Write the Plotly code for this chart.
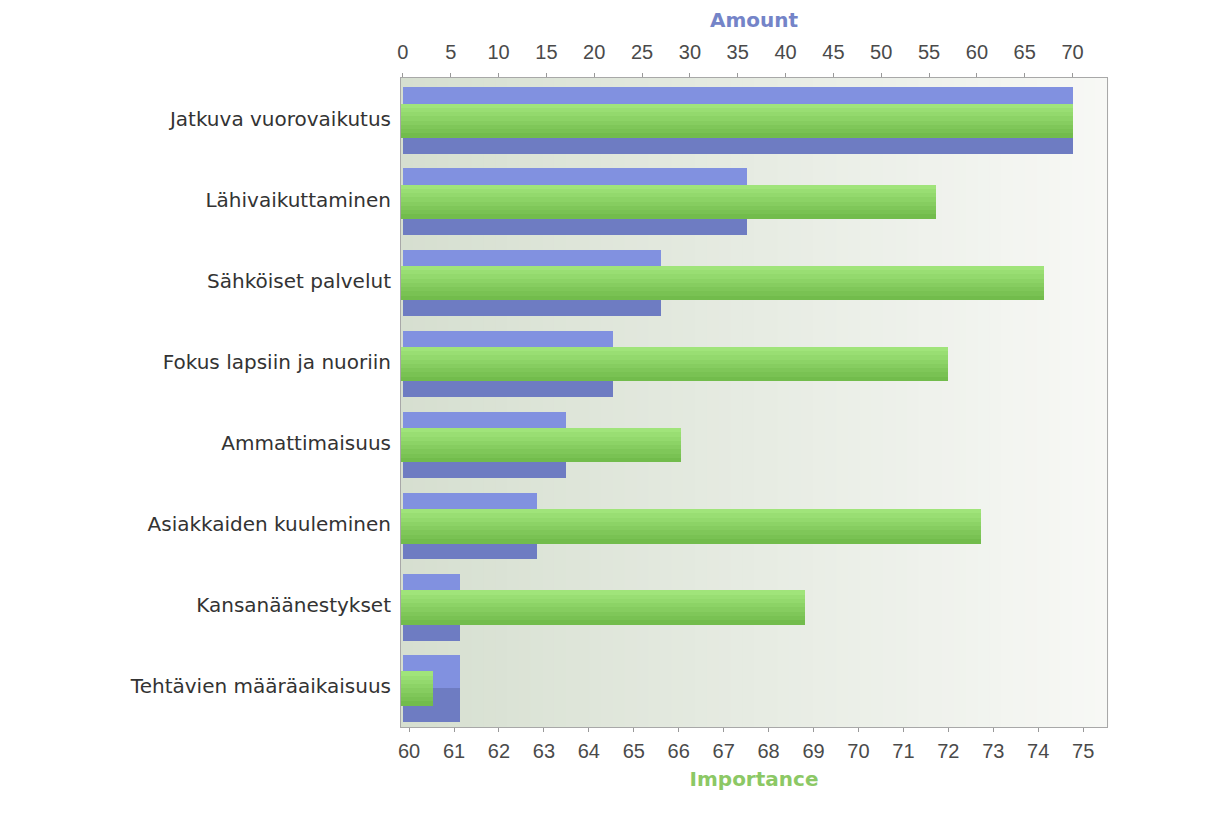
import plotly.graph_objects as go

categories = [
    "Jatkuva vuorovaikutus",
    "Lähivaikuttaminen",
    "Sähköiset palvelut",
    "Fokus lapsiin ja nuoriin",
    "Ammattimaisuus",
    "Asiakkaiden kuuleminen",
    "Kansanäänestykset",
    "Tehtävien määräaikaisuus",
]
amount = [70, 36, 27, 22, 17, 14, 6, 6]
importance = [74.78, 71.73, 74.13, 72.0, 66.04, 72.73, 68.8, 60.53]

amount_ticks = list(range(0, 75, 5))
importance_ticks = list(range(60, 76))

FONT = "Liberation Sans"
TFONT = "DejaVu Sans"
TICKCOL = "#4a4a4a"

fig = go.Figure()

# background gradient in the plot area
n = 60
def lerp(c1, c2, t):
    return "#%02x%02x%02x" % tuple(round(a + (b - a) * t) for a, b in zip(c1, c2))
c_left = (0xd6, 0xdf, 0xd0)
c_right = (0xf7, 0xf8, 0xf5)
shapes = []
for i in range(n):
    shapes.append(dict(type="rect", xref="paper", yref="paper",
                       x0=i / n, x1=(i + 1) / n + 0.002, y0=0, y1=1,
                       fillcolor=lerp(c_left, c_right, i / (n - 1)),
                       line=dict(width=0), layer="below"))

SH = 0.025
BW = 0.82
# blue bars (Amount) : lighter top half, darker bottom half
fig.add_trace(go.Bar(y=categories, x=amount, orientation="h", xaxis="x", yaxis="y",
                     width=BW / 2, offset=-BW / 2 + SH, marker=dict(color="#8191e0", line=dict(width=0)),
                     name="Amount", showlegend=False))
fig.add_trace(go.Bar(y=categories, x=amount, orientation="h", xaxis="x", yaxis="y",
                     width=BW / 2, offset=SH, marker=dict(color="#6e7cc2", line=dict(width=0)),
                     name="Amount", showlegend=False))

# green bars (Importance) with vertical gradient
GW = 0.42
k = 8
g_top = (0xa0, 0xe4, 0x7a)
g_bot = (0x72, 0xbc, 0x4c)
for j in range(k):
    fig.add_trace(go.Bar(y=categories, x=importance, orientation="h", xaxis="x2", yaxis="y",
                         width=GW / k + 0.003, offset=-GW / 2 + SH + j * GW / k,
                         marker=dict(color=lerp(g_top, g_bot, j / (k - 1)), line=dict(width=0)),
                         name="Importance", showlegend=False))

fig.update_layout(
    width=1223, height=839,
    margin=dict(l=393, r=124, t=70, b=120),
    paper_bgcolor="white",
    plot_bgcolor="#e8ede4",
    barmode="overlay",
    bargap=0,
    shapes=shapes,
    font=dict(family=FONT, size=20, color=TICKCOL),
    xaxis=dict(side="top", range=[-0.2, 73.6], tickmode="array", tickvals=amount_ticks,
               ticks="outside", ticklen=4, tickcolor="#999999", showgrid=False, zeroline=False,
               showline=True, linecolor="#a8a8a8", linewidth=1, ticklabelstandoff=6,
               tickfont=dict(family=FONT, size=20, color=TICKCOL),
               title=dict(text="<b>Amount</b>", font=dict(family=TFONT, size=20, color="#7484c8"), standoff=8)),
    xaxis2=dict(side="bottom", overlaying="x", anchor="y", range=[59.82, 75.53],
                tickmode="array", tickvals=importance_ticks,
                ticks="outside", ticklen=4, tickcolor="#999999", showgrid=False, zeroline=False,
                showline=True, linecolor="#a8a8a8", linewidth=1, ticklabelstandoff=2,
                tickfont=dict(family=FONT, size=20, color=TICKCOL),
                title=dict(text="<b>Importance</b>", font=dict(family=TFONT, size=20, color="#8cc865"), standoff=10)),
    yaxis=dict(autorange="reversed", categoryorder="array", categoryarray=categories,
               showgrid=False, zeroline=False, ticks="", showline=True, linecolor="#a8a8a8",
               mirror=True, ticklabelstandoff=5,
               tickfont=dict(family=TFONT, size=20, color="#333333")),
)

fig.write_html("out.html")
